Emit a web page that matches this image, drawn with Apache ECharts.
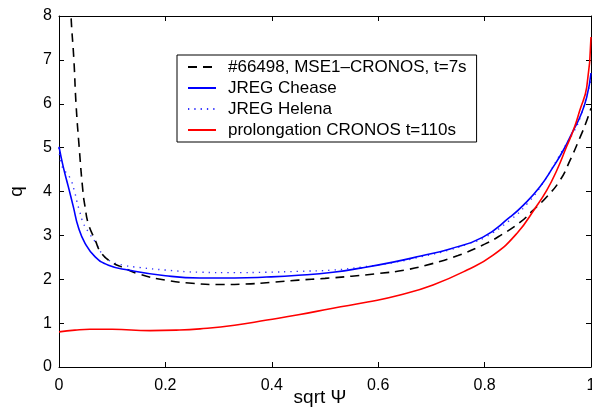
<!DOCTYPE html>
<html>
<head>
<meta charset="utf-8">
<script src="https://cdn.jsdelivr.net/npm/echarts@6/dist/echarts.min.js"></script>
<style>
html,body{margin:0;padding:0;background:#fff;}
#c{width:592px;height:407px;}
</style>
</head>
<body>
<div id="c"></div>
<script>
// ---- data ----
var seriesNames = ['#66498, MSE1\u2013CRONOS, t=7s', 'JREG Chease', 'JREG Helena', 'prolongation CRONOS t=110s'];

var xTicks = [0, 0.2, 0.4, 0.6, 0.8, 1];
var yTicks = [0, 1, 2, 3, 4, 5, 6, 7, 8];

var mseX = [0.016,0.0226,0.028,0.032,0.038,0.045,0.049,0.055,0.068,0.08,0.1,0.12,0.15,0.2,0.25,0.3,0.35,0.4,0.45,0.5,0.55,0.6,0.65,0.7,0.75,0.8,0.83,0.867,0.89,0.917,0.942,0.961,0.98,0.99,1.0];
var mseQ = [10,8,7,6,5,4,3.65,3.27,2.89,2.59,2.38,2.27,2.12,1.98,1.91,1.88,1.89,1.93,1.98,2.02,2.07,2.13,2.21,2.35,2.54,2.8,3.0,3.3,3.56,3.88,4.26,4.72,5.25,5.55,5.9];

var cheaseX = [0,0.008,0.0175,0.027,0.036,0.049,0.068,0.093,0.13,0.2,0.265,0.33,0.39,0.45,0.515,0.57,0.628,0.68,0.735,0.797,0.848,0.873,0.904,0.929,0.948,0.967,0.98,0.992,1.0];
var cheaseQ = [5.02,4.56,4.11,3.65,3.2,2.82,2.51,2.32,2.21,2.08,2.03,2.03,2.05,2.09,2.16,2.26,2.39,2.53,2.69,2.96,3.42,3.69,4.11,4.56,4.94,5.4,5.72,6.15,6.7];

var helenaX = [0,0.005,0.021,0.03,0.033,0.039,0.046,0.055,0.068,0.083,0.099,0.121,0.15,0.2,0.265,0.33,0.39,0.45,0.515,0.57,0.628,0.68,0.735,0.767,0.8,0.848,0.88,0.91,0.947,0.967,0.98,1.0];
var helenaQ = [5.0,4.6,4.3,3.96,3.8,3.54,3.27,3.08,2.85,2.55,2.40,2.32,2.27,2.21,2.16,2.15,2.16,2.18,2.21,2.28,2.38,2.51,2.67,2.8,2.95,3.35,3.72,4.2,4.95,5.35,5.7,6.55];

var cronosX = [0,0.03,0.058,0.1,0.171,0.22,0.265,0.33,0.391,0.45,0.515,0.58,0.641,0.703,0.767,0.816,0.861,0.895,0.917,0.936,0.954,0.967,0.979,0.992,1.0];
var cronosQ = [0.80,0.84,0.86,0.86,0.83,0.84,0.87,0.95,1.07,1.19,1.34,1.48,1.64,1.87,2.21,2.55,3.05,3.62,4.03,4.49,5.02,5.40,5.85,6.38,7.52];

function pairs(xs, ys){ var out=[]; for(var i=0;i<xs.length;i++){ out.push([xs[i], ys[i]]); } return out; }

var FONT = 'Liberation Sans, Arial, Helvetica, sans-serif';
var chart = echarts.init(document.getElementById('c'), null, {renderer:'canvas'});

function baseAxis(extra){
  var a = {
    type:'value',
    axisLine:{show:true, onZero:false, lineStyle:{color:'#000', width:1}},
    axisTick:{show:true, inside:true, length:5, lineStyle:{color:'#000', width:1}},
    splitLine:{show:false},
    axisLabel:{color:'#000', fontSize:16, fontFamily:FONT}
  };
  for (var k in extra) a[k]=extra[k];
  return a;
}

var option = {
  animation:false,
  backgroundColor:'#fff',
  grid:{left:59, right:1, top:16, bottom:40, containLabel:false, outerBoundsMode:'none'},
  xAxis:[
    baseAxis({min:xTicks[0], max:xTicks[xTicks.length-1], interval:0.2, position:'bottom',
      name:'sqrt \u03A8', nameLocation:'middle', nameGap:21, nameMoveOverlap:false,
      nameTextStyle:{color:'#000', fontSize:19, fontFamily:FONT, padding:[0,10,0,0]},
      axisLabel:{color:'#000', fontSize:16, fontFamily:FONT, margin:11,
        formatter:function(v){ return (v===0||v===1)? String(v) : v.toFixed(1); }}}),
    baseAxis({min:xTicks[0], max:xTicks[xTicks.length-1], interval:0.2, position:'top', axisLabel:{show:false}})
  ],
  yAxis:[
    baseAxis({min:yTicks[0], max:yTicks[yTicks.length-1], interval:1, position:'left',
      name:'q', nameLocation:'middle', nameGap:33, nameRotate:90, nameMoveOverlap:false,
      nameTextStyle:{color:'#000', fontSize:19, fontFamily:FONT},
      axisLabel:{color:'#000', fontSize:16, fontFamily:FONT, margin:7}}),
    baseAxis({min:yTicks[0], max:yTicks[yTicks.length-1], interval:1, position:'right', axisLabel:{show:false}})
  ],
  legend:{
    show:true,
    orient:'vertical',
    left:177, top:55,
    backgroundColor:'#fff',
    borderColor:'#000', borderWidth:1, borderRadius:0,
    padding:[2,10,2,10],
    itemWidth:28, itemHeight:12, itemGap:1,
    itemStyle:{opacity:0},
    textStyle:{color:'#000', fontSize:17, fontFamily:FONT, lineHeight:20, padding:[0,0,0,7]},
    data:seriesNames
  },
  series:[
    {name:seriesNames[0], type:'line', data:pairs(mseX, mseQ), symbol:'none', smooth:0.5,
      lineStyle:{color:'#000', width:1.6, type:[9,6]}, itemStyle:{color:'#000'}, clip:true, z:3},
    {name:seriesNames[1], type:'line', data:pairs(cheaseX, cheaseQ), symbol:'none', smooth:0.5,
      lineStyle:{color:'#0000ff', width:1.6, type:'solid'}, itemStyle:{color:'#0000ff'}, clip:true, z:4},
    {name:seriesNames[2], type:'line', data:pairs(helenaX, helenaQ), symbol:'none', smooth:0.5,
      lineStyle:{color:'#3333ff', width:1.4, type:[1.3,5]}, itemStyle:{color:'#3333ff'}, clip:true, z:2},
    {name:seriesNames[3], type:'line', data:pairs(cronosX, cronosQ), symbol:'none', smooth:0.5,
      lineStyle:{color:'#ff0000', width:1.6, type:'solid'}, itemStyle:{color:'#ff0000'}, clip:true, z:5}
  ]
};
chart.setOption(option);
</script>
</body>
</html>
